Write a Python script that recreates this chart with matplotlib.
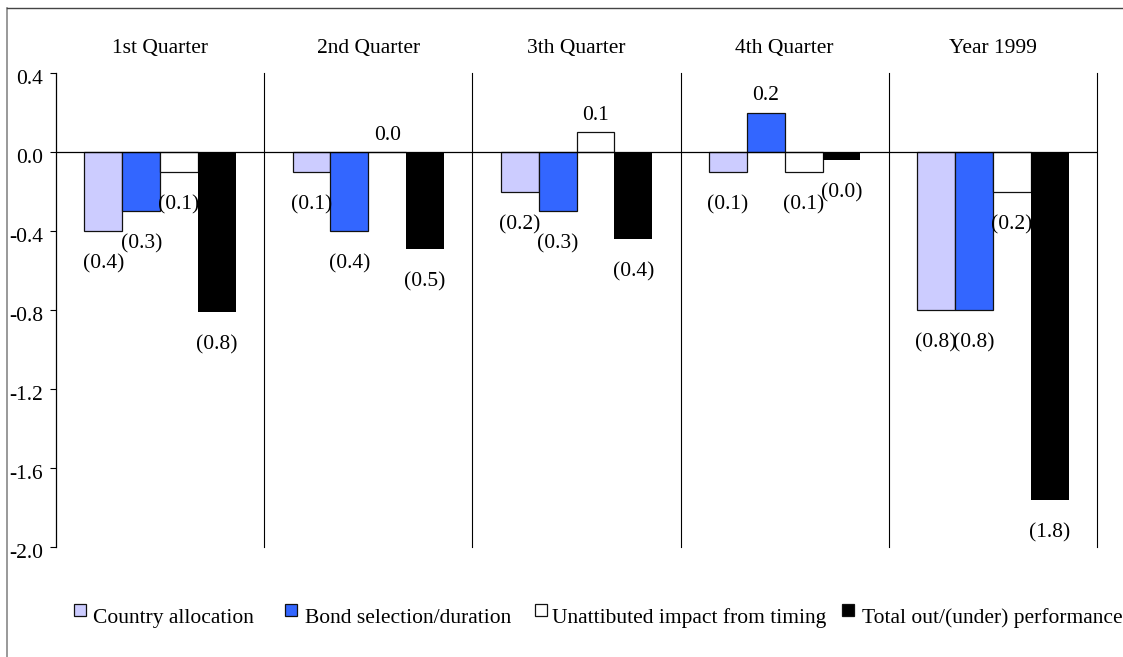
import matplotlib
matplotlib.use("Agg")
import matplotlib.pyplot as plt
import numpy as np
from matplotlib.patches import Rectangle
from matplotlib.lines import Line2D
from matplotlib.transforms import ScaledTranslation

plt.rcParams['font.family'] = ['Liberation Serif', 'DejaVu Serif']

periods = ["1st Quarter", "2nd Quarter", "3th Quarter", "4th Quarter", "Year 1999"]
series_names = ["Country allocation", "Bond selection/duration",
                "Unattibuted impact from timing", "Total out/(under) performance"]
country = [-0.40, -0.10, -0.20, -0.10, -0.80]
bond = [-0.30, -0.40, -0.30, 0.20, -0.80]
timing = [-0.10, 0.00, 0.10, -0.10, -0.20]
total = [-0.81, -0.49, -0.44, -0.04, -1.76]
y_ticks = [0.4, 0.0, -0.4, -0.8, -1.2, -1.6, -2.0]

colors = ["#CCCCFF", "#3366FF", "#FFFFFF", "#000000"]
W, H = 1123, 657
FS = 15.5


def fx(px):
    return px / W


def fy(py):
    return 1 - py / H


fig = plt.figure(figsize=(W / 100, H / 100), dpi=100)
ax = fig.add_axes([fx(56), fy(547), fx(1097) - fx(56), (547 - 73) / H])

x = np.arange(len(periods))
bw = 0.1816
all_series = [country, bond, timing, total]
for k, vals in enumerate(all_series):
    pos = x + (k - 1.5) * bw
    if k < 3:
        ax.bar(pos, vals, width=bw, color=colors[k], edgecolor="#111111",
               linewidth=0.9, zorder=3)
    else:
        ax.bar(pos, vals, width=bw, color=colors[k], edgecolor="none", zorder=3)
    # data labels, negatives in parentheses
    for xi, v in zip(pos, vals):
        if v >= 0:
            txt = f"{v:.1f}"
            off = 17
        else:
            txt = f"({abs(v):.1f})"
            off = -33
        ax.annotate(txt, (xi, v), xytext=(0, off * 0.72), textcoords="offset points",
                    ha="center", va="center", fontsize=FS, zorder=5)

ax.set_xlim(-0.5, 4.5)
ax.set_ylim(-2.0, 0.4)
ax.axhline(0, color="black", linewidth=0.9, zorder=4)
for b in np.arange(0.5, 5.0, 1.0):
    ax.axvline(b, color="black", linewidth=0.8, zorder=2, clip_on=False)

for s in ["top", "right", "bottom"]:
    ax.spines[s].set_visible(False)
ax.spines["left"].set_linewidth(0.9)
ax.set_xticks([])
ax.set_yticks(y_ticks)
ax.set_yticklabels([f"{t:.1f}" for t in y_ticks])
ax.tick_params(axis="y", direction="out", length=4.3, width=0.8, pad=5, labelsize=FS)
for lab in ax.get_yticklabels():
    lab.set_transform(lab.get_transform() + ScaledTranslation(0, -4 / 100, fig.dpi_scale_trans))

# group titles above each section
title_tr = ax.transData + ScaledTranslation(0, 20 / 100, fig.dpi_scale_trans)
for i, name in enumerate(periods):
    ax.text(i, 0.4, name, transform=title_tr, ha="center", va="baseline", fontsize=FS)

# legend drawn by hand
marker_x = [73.5, 285, 534.5, 842]
text_x = [93, 305, 552, 862]
for k in range(4):
    fig.patches.append(Rectangle((fx(marker_x[k]), fy(615.5)), 12 / W, 12 / H,
                                 transform=fig.transFigure, facecolor=colors[k],
                                 edgecolor="#111111", linewidth=0.9))
    fig.text(fx(text_x[k]), fy(623), series_names[k], ha="left", va="baseline",
             fontsize=FS)

# outer frame
fig.add_artist(Line2D([fx(7), fx(7)], [fy(8), 0], transform=fig.transFigure,
                      color="#888888", linewidth=1.2))
fig.add_artist(Line2D([fx(7), 1], [fy(8), fy(8)], transform=fig.transFigure,
                      color="#444444", linewidth=1.0))

fig.savefig("out.png", dpi=100)
